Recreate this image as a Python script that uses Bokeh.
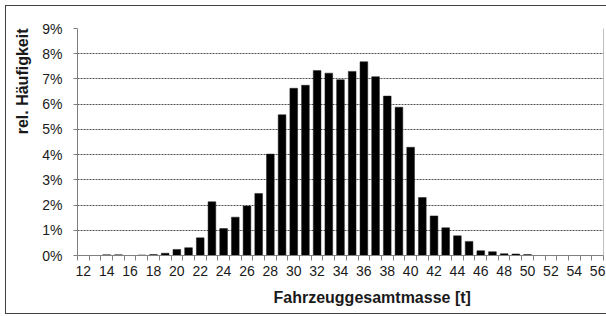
from bokeh.plotting import figure
from bokeh.models import FixedTicker, Range1d, PrintfTickFormatter, Title, ColumnDataSource, Span
from bokeh.embed import file_html
from bokeh.resources import INLINE

masses = list(range(12, 57))
share = [0, 0, 0.03, 0.03, 0, 0.02, 0.04, 0.09, 0.24, 0.31,
         0.70, 2.13, 1.07, 1.52, 1.96, 2.46, 4.02, 5.58, 6.63, 6.75,
         7.33, 7.23, 6.97, 7.30, 7.68, 7.09, 6.32, 5.88, 4.29, 2.30,
         1.57, 1.10, 0.78, 0.56, 0.19, 0.15, 0.07, 0.06, 0.04, 0,
         0, 0, 0, 0, 0]
x_labels = list(range(12, 57, 2))
y_ticks = list(range(0, 10))
x_title = "Fahrzeuggesamtmasse [t]"
y_title = "rel. Häufigkeit"

FONT = "Liberation Sans"
TXT = "#1a1a1a"

src = ColumnDataSource(dict(x=masses, y=share))

x_lo, x_hi = masses[0] - 0.5, masses[-1] + 0.5
p = figure(frame_width=526, frame_height=227, output_backend="svg", toolbar_location=None,
           x_range=Range1d(x_lo, x_hi), y_range=Range1d(0, 9),
           min_border_left=77, min_border_right=3, min_border_top=28, min_border_bottom=61,
           styles={"background": "white",
                   "box-shadow": "inset 5px 5px 0 0 #fff, inset 0 -2px 0 0 #fff, "
                                 "inset 6px 6px 0 0 #404040, inset 0 -3px 0 0 #404040"})
p.outline_line_color = None
p.background_fill_color = "white"
p.border_fill_color = None

p.vbar(x="x", top="y", width=0.66, source=src, fill_color="black", line_color="#202020", line_width=0.5)
p.add_layout(Span(location=x_hi, dimension="height", line_color="#808080", line_width=1))

# x axis
p.xaxis.ticker = FixedTicker(ticks=x_labels, minor_ticks=[m - 0.5 for m in masses] + [x_hi])
p.xaxis.major_tick_out = 0
p.xaxis.major_tick_in = 0
p.xaxis.minor_tick_out = 5
p.xaxis.minor_tick_in = 0
p.xaxis.minor_tick_line_color = "#808080"
p.xaxis.axis_line_color = "#808080"
p.xaxis.major_label_text_font = FONT
p.xaxis.major_label_text_font_size = "14px"
p.xaxis.major_label_text_color = TXT
p.xaxis.major_label_standoff = 5

# y axis
p.yaxis.ticker = FixedTicker(ticks=y_ticks, minor_ticks=[])
p.yaxis.formatter = PrintfTickFormatter(format="%d%%")
p.yaxis.major_tick_out = 4
p.yaxis.major_tick_in = 0
p.yaxis.minor_tick_out = 0
p.yaxis.major_tick_line_color = "#808080"
p.yaxis.axis_line_color = "#808080"
p.yaxis.major_label_text_font = FONT
p.yaxis.major_label_text_font_size = "14px"
p.yaxis.major_label_text_color = TXT
p.yaxis.major_label_standoff = 11

p.xgrid.grid_line_color = None
p.ygrid.grid_line_color = "#505050"
p.ygrid.grid_line_dash = "2 1"
p.ygrid.grid_line_width = 1

p.add_layout(Title(text=x_title, align="left", offset=196, standoff=17,
                   text_font=FONT, text_font_size="16px", text_font_style="bold",
                   text_color=TXT), "below")
p.add_layout(Title(text=y_title, align="right", offset=0, standoff=18,
                   text_font=FONT, text_font_size="16px", text_font_style="bold",
                   text_color=TXT), "left")

open("out.html", "w").write(file_html(p, INLINE))
